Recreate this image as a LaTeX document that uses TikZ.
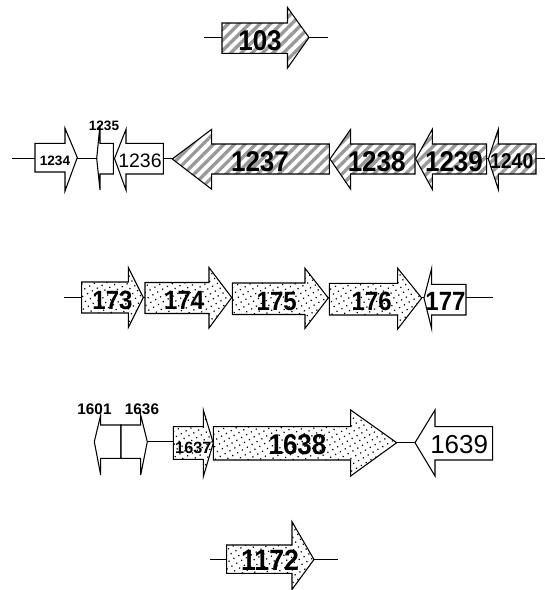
\documentclass[tikz,border=0pt]{standalone}
\usepackage{fontspec}
\setmainfont{Liberation Sans}
\usetikzlibrary{patterns.meta}
% #1 style, #2 body end x, #3 head base x, #4 tip x, #5 centre y, #6 body top, #7 body bottom, #8 head top, #9 head bottom
\newcommand\genearrow[9]{\path[#1] (#2,#6) -- (#3,#6) -- (#3,#8) -- (#4,#5) -- (#3,#9) -- (#3,#7) -- (#2,#7) -- cycle;}
\newcommand\tallnum[1]{\scalebox{1}[1.1]{#1}}
\tikzset{
  gbase/.style={draw=black, line width=0.8pt, line join=miter},
  plain/.style={gbase, fill=white},
  hatch/.style={gbase, preaction={fill=white}, pattern={Lines[angle=45,distance=5.6pt,line width=2.5pt]}, pattern color=black!40},
  dotted/.style={gbase, preaction={fill=white}, pattern={Dots[distance=4.2pt,radius=0.65pt,angle=30]}, pattern color=black},
  backbone/.style={draw=black, line width=0.8pt},
  lbl/.style={inner sep=0pt, font=\bfseries\fontsize{19.5}{20}\selectfont},
  lblM/.style={inner sep=0pt, font=\bfseries\fontsize{18}{19}\selectfont},
  lblS/.style={inner sep=0pt, font=\bfseries\fontsize{14.6}{15}\selectfont},
  lblT/.style={inner sep=0pt, font=\bfseries\fontsize{10.2}{11}\selectfont},
  lblR/.style={inner sep=0pt, font=\fontsize{14.6}{15}\selectfont},
  lblRL/.style={inner sep=0pt, font=\fontsize{19.5}{20}\selectfont},
}
\begin{document}
\begin{tikzpicture}[x=0.75pt,y=-0.75pt]
\useasboundingbox (0,0) rectangle (545,590);
% ---------- row 1 ----------
\coordinate (r1a) at (204,37.5); \coordinate (r1b) at (328,37.5);
\draw[backbone] (r1a) -- (r1b);
\genearrow{hatch}{222}{287.5}{309}{37.5}{23}{53.3}{7.5}{68}
\node[lbl] (t103) at (260,41) {\tallnum{103}};
% ---------- row 2 ----------
\coordinate (r2a) at (12,158.5); \coordinate (r2b) at (545,158.5);
\draw[backbone] (r2a) -- (r2b);
\genearrow{plain}{35}{65}{77.3}{157.5}{143.3}{172}{128.3}{191}
\genearrow{plain}{113.3}{100}{96.7}{158.5}{143.3}{174}{125}{190}
\genearrow{plain}{163.3}{126}{114.5}{158.5}{143.3}{174}{129.3}{190}
\genearrow{hatch}{329.3}{211.7}{172.3}{159}{144}{174}{129.3}{189.3}
\genearrow{hatch}{415}{350.7}{330}{159}{144}{174}{129.3}{189.3}
\genearrow{hatch}{486.7}{432.3}{415.7}{159}{144}{174}{129.3}{189.3}
\genearrow{hatch}{536}{498.3}{488.3}{159}{144}{174}{129.3}{189.3}
\node[lblT] (t1234) at (55,160.5) {1234};
\node[lblT] (t1235) at (104,126) {1235};
\node[lblR] (t1236) at (140,160.5) {1236};
\node[lbl] (t1237) at (260,161.5) {\tallnum{1237}};
\node[lbl] (t1238) at (376.7,161.5) {\tallnum{1238}};
\node[lbl] (t1239) at (454,161.5) {\tallnum{1239}};
\node[lblS] (t1240) at (511.7,161.3) {\tallnum{1240}};
% ---------- row 3 ----------
\coordinate (r3a) at (64,297.5); \coordinate (r3b) at (493.3,297.5);
\draw[backbone] (r3a) -- (r3b);
\genearrow{dotted}{81.7}{128.3}{143.3}{297.5}{282}{313}{267.5}{327.5}
\genearrow{dotted}{145}{209}{231.7}{297.5}{282.5}{313.5}{267.5}{328}
\genearrow{dotted}{232.3}{305}{328.3}{298}{283}{314.5}{268.3}{328.3}
\genearrow{dotted}{329.3}{397.7}{421.7}{298}{283.3}{315}{268.3}{329}
\genearrow{plain}{466}{431.7}{424}{298}{284.3}{315}{268.3}{329}
\node[lblM] (t173) at (112.5,300.8) {\tallnum{173}};
\node[lblM] (t174) at (184.2,300.8) {\tallnum{174}};
\node[lblM] (t175) at (276.7,301.3) {\tallnum{175}};
\node[lblM] (t176) at (371.7,301.3) {\tallnum{176}};
\node[lblM] (t177) at (445.5,301.3) {\tallnum{177}};
% ---------- row 4 ----------
\coordinate (r4a) at (147.3,441.7); \coordinate (r4b) at (173.3,441.7);
\draw[backbone] (r4a) -- (r4b);
\coordinate (r4c) at (396.7,442.7); \coordinate (r4d) at (415,442.7);
\draw[backbone] (r4c) -- (r4d);
\genearrow{plain}{121}{100.7}{94.3}{441.7}{425}{458.3}{415}{475}
\genearrow{plain}{121}{140.7}{147.3}{441.7}{425}{458.3}{415}{475}
\genearrow{dotted}{173.3}{203.3}{213.3}{443}{426.7}{459.3}{410}{476.7}
\genearrow{dotted}{213.3}{350.7}{396.7}{442.7}{426.7}{460}{410}{476}
\genearrow{plain}{492.7}{435}{415}{442.7}{426.7}{460}{410}{476}
\node[lblT, font=\bfseries\fontsize{11.5}{12}\selectfont] (t1601) at (94.5,409) {1601};
\node[lblT, font=\bfseries\fontsize{11.5}{12}\selectfont] (t1636) at (142,409) {1636};
\node[lblT, font=\bfseries\fontsize{12.2}{13}\selectfont] (t1637) at (193.3,447.5) {1637};
\node[lbl] (t1638) at (297.5,445) {\tallnum{1638}};
\node[lblRL] (t1639) at (459.2,445) {1639};
% ---------- row 5 ----------
\coordinate (r5a) at (210,559.5); \coordinate (r5b) at (338,559.5);
\draw[backbone] (r5a) -- (r5b);
\genearrow{dotted}{226.7}{292}{314}{559.5}{545}{573.3}{521.7}{589.5}
\node[lbl, font=\bfseries\fontsize{20}{21}\selectfont] (t1172) at (270,560) {\tallnum{1172}};
\end{tikzpicture}
\end{document}
